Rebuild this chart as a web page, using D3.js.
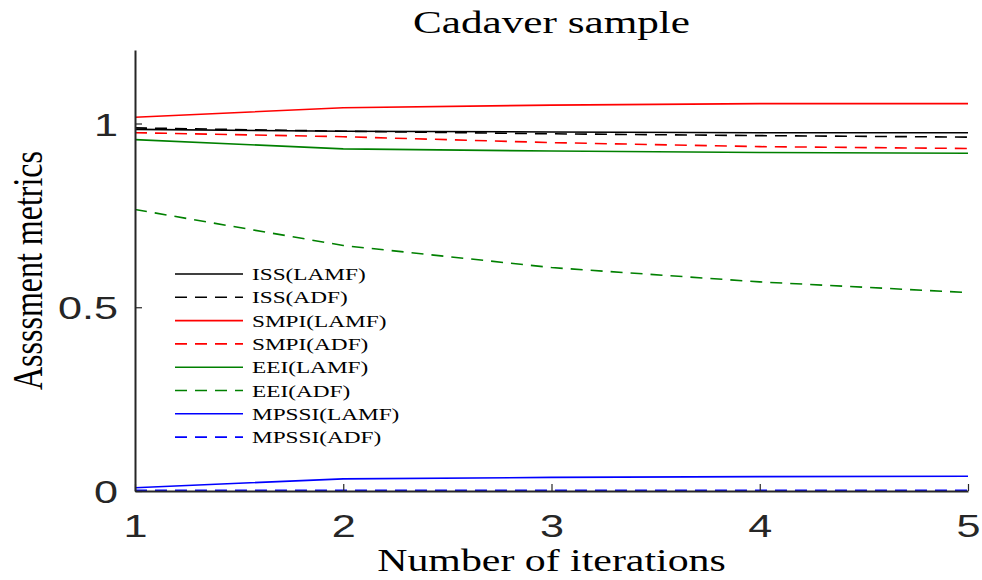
<!DOCTYPE html>
<html>
<head>
<meta charset="utf-8">
<script src="https://cdn.jsdelivr.net/npm/d3@7"></script>
<style>
  html, body { margin: 0; padding: 0; background: #fff; }
  svg { display: block; }
</style>
</head>
<body>
<svg id="chart" width="982" height="580"></svg>
<script>
// Iteration counts on the x axis
const iterations = [1, 2, 3, 4, 5];

// Assessment metric values per iteration
const issLAMF   = [0.984, 0.979, 0.977, 0.975, 0.975];
const issADF    = [0.988, 0.979, 0.972, 0.967, 0.963];
const smpiLAMF  = [1.017, 1.043, 1.050, 1.054, 1.054];
const smpiADF   = [0.975, 0.964, 0.948, 0.937, 0.932];
const eeiLAMF   = [0.956, 0.931, 0.925, 0.921, 0.919];
const eeiADF    = [0.766, 0.668, 0.608, 0.569, 0.540];
const mpssiLAMF = [0.009, 0.033, 0.037, 0.039, 0.040];
const mpssiADF  = [0.002, 0.002, 0.002, 0.002, 0.002];

const seriesNames = ["ISS(LAMF)", "ISS(ADF)", "SMPI(LAMF)", "SMPI(ADF)",
                     "EEI(LAMF)", "EEI(ADF)", "MPSSI(LAMF)", "MPSSI(ADF)"];
const seriesValues = [issLAMF, issADF, smpiLAMF, smpiADF,
                      eeiLAMF, eeiADF, mpssiLAMF, mpssiADF];
const seriesColors = ["#000000", "#000000", "#ff0000", "#ff0000",
                      "#008000", "#008000", "#0000ff", "#0000ff"];
const seriesDashed = [false, true, false, true, false, true, false, true];

const xTicks = [1, 2, 3, 4, 5];
const yTicks = [0, 0.5, 1];

const titleText = "Cadaver sample";
const xLabelText = "Number of iterations";
const yLabelText = "Assssment metrics";

// Layout
const svg = d3.select("#chart");
const W = 982, H = 580;
const plot = { left: 135, right: 968, top: 50, bottom: 491 };
const SX = 1.35;               // horizontal glyph stretch
const serif = "'Liberation Serif', 'Times New Roman', serif";
const sans = "'Liberation Sans', Arial, Helvetica, sans-serif";
const axisColor = "#262626";
const dash = "12,8";

svg.append("rect").attr("width", W).attr("height", H).attr("fill", "#fff");

const x = d3.scaleLinear().domain([1, 5]).range([plot.left, plot.right]);
const y = d3.scaleLinear().domain([0, 1.2]).range([plot.bottom, plot.top]);

// Series lines
const line = d3.line()
  .x((d, i) => x(iterations[i]))
  .y(d => y(d))
  .curve(d3.curveLinear);

const lines = svg.append("g").attr("class", "series");
seriesValues.forEach((vals, k) => {
  lines.append("path")
    .datum(vals)
    .attr("d", line)
    .attr("fill", "none")
    .attr("stroke", seriesColors[k])
    .attr("stroke-width", 1.6)
    .attr("stroke-dasharray", seriesDashed[k] ? dash : null);
});

// Axes
const xAxis = d3.axisBottom(x)
  .tickValues(xTicks)
  .tickFormat(d3.format("d"))
  .tickSizeInner(-7)
  .tickSizeOuter(0);

const yAxis = d3.axisLeft(y)
  .tickValues(yTicks)
  .tickFormat(d => d === 0.5 ? "0.5" : d3.format("d")(d))
  .tickSizeInner(-7)
  .tickSizeOuter(0);

const gx = svg.append("g")
  .attr("transform", `translate(0,${plot.bottom})`)
  .call(xAxis);
const gy = svg.append("g")
  .attr("transform", `translate(${plot.left},0)`)
  .call(yAxis);

[gx, gy].forEach(g => {
  g.select(".domain").attr("stroke", axisColor).attr("stroke-width", 2);
  g.selectAll(".tick line").attr("stroke", axisColor).attr("stroke-width", 1.2);
  g.selectAll(".tick text")
    .attr("fill", "#262626")
    .style("font-family", sans)
    .style("font-size", "32px");
});

gx.selectAll(".tick text")
  .attr("y", 46)
  .attr("dy", null)
  .attr("transform", `scale(${SX},1)`);

gy.selectAll(".tick text")
  .attr("x", -17 / SX)
  .attr("dy", "0.36em")
  .attr("transform", `scale(${SX},1)`);

// Stretched text helper
function label(str, px, py, size, anchor, rotate) {
  const t = svg.append("text")
    .attr("transform", rotate
      ? `translate(${px},${py}) rotate(-90) scale(1,${SX})`
      : `translate(${px},${py}) scale(${SX},1)`)
    .attr("text-anchor", anchor)
    .style("font-family", serif)
    .style("font-size", size + "px")
    .attr("fill", "#000")
    .text(str);
  return t;
}

label(titleText, (plot.left + plot.right) / 2, 33, 32, "middle", false);
label(xLabelText, (plot.left + plot.right) / 2, 571, 31, "middle", false);
label(yLabelText, 42, (plot.top + plot.bottom) / 2, 32, "middle", true);

// Legend
const legend = svg.append("g").attr("class", "legend");
const legendX0 = 175, legendX1 = 243, legendTextX = 252;
const legendY0 = 274, legendStep = 23.3;
seriesNames.forEach((name, k) => {
  const ly = legendY0 + k * legendStep;
  legend.append("line")
    .attr("x1", legendX0).attr("x2", legendX1)
    .attr("y1", ly).attr("y2", ly)
    .attr("stroke", seriesColors[k])
    .attr("stroke-width", 1.6)
    .attr("stroke-dasharray", seriesDashed[k] ? dash : null);
  legend.append("text")
    .attr("transform", `translate(${legendTextX},${ly}) scale(1.33,1)`)
    .attr("dy", "0.35em")
    .style("font-family", serif)
    .style("font-size", "17.5px")
    .attr("fill", "#000")
    .text(name);
});
</script>
</body>
</html>
